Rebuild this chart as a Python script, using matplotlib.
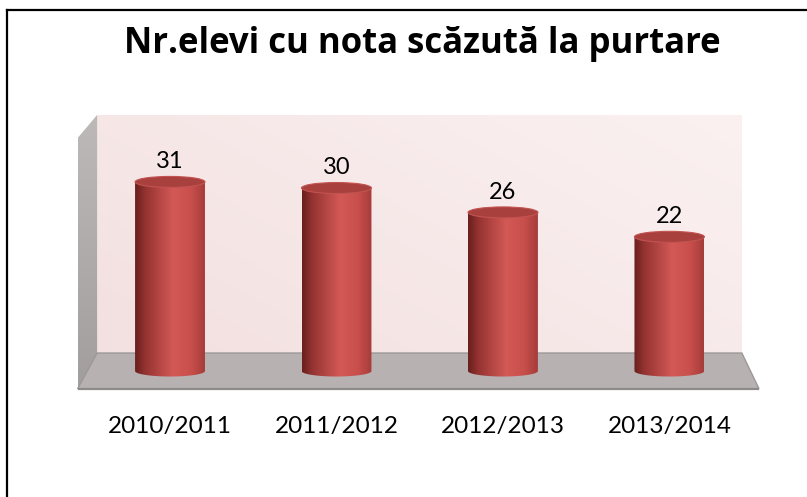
import numpy as np
from matplotlib import pyplot as plt
from matplotlib.patches import Polygon, Ellipse
from matplotlib.colors import LinearSegmentedColormap
from matplotlib.lines import Line2D

plt.rcParams['font.family'] = ['Lato', 'DejaVu Sans']

title = "Nr.elevi cu nota scăzută la purtare"
categories = ["2010/2011", "2011/2012", "2012/2013", "2013/2014"]
values = [31, 30, 26, 22]


def draw_walls(ax):
    # back wall, light pink gradient
    gx, gy = np.meshgrid(np.linspace(0, 1, 200), np.linspace(0, 1, 100))
    g = 0.6 * gx + 0.4 * gy
    wall_cmap = LinearSegmentedColormap.from_list("wall", ["#f3e0e0", "#fbf1f1"])
    ax.imshow(g, cmap=wall_cmap, extent=(-0.438, 3.435, 2.95, 41.97),
              origin="lower", aspect="auto", zorder=1)

    # left wall
    lw_poly = Polygon([(-0.438, 2.95), (-0.438, 41.97), (-0.555, 38.2), (-0.555, -2.9)],
                      closed=True, facecolor="none", edgecolor="none", zorder=2)
    ax.add_patch(lw_poly)
    gl = np.tile(np.linspace(0, 1, 100)[:, None], (1, 10))
    left_cmap = LinearSegmentedColormap.from_list("left", ["#a29e9e", "#bdb9b9"])
    im = ax.imshow(gl, cmap=left_cmap, extent=(-0.555, -0.438, -2.9, 41.97),
                   origin="lower", aspect="auto", zorder=2)
    im.set_clip_path(lw_poly)

    # floor
    floor = Polygon([(-0.438, 2.95), (3.435, 2.95), (3.538, -2.9), (-0.555, -2.9)],
                    closed=True, facecolor="#b7b1b1", edgecolor="#9c9898", lw=1, zorder=2)
    ax.add_patch(floor)
    ax.plot([-0.555, 3.538], [-2.9, -2.9], color="#8e8a8a", lw=1.6, zorder=3,
            solid_capstyle="butt")


def draw_cylinder(ax, c, v, w=0.42, h=0.9):
    t = np.linspace(np.pi, 2 * np.pi, 60)
    xs = list(c + w / 2 * np.cos(t)) + [c + w / 2, c - w / 2]
    ys = list(h * np.sin(t)) + [v, v]
    body = Polygon(list(zip(xs, ys)), closed=True, facecolor="none",
                   edgecolor="none", zorder=5)
    ax.add_patch(body)

    cyl_cmap = LinearSegmentedColormap.from_list(
        "cyl", [(0.0, "#6a201e"), (0.15, "#963432"), (0.55, "#d35956"),
                (0.8, "#c94f4c"), (1.0, "#a63d3b")])
    grad = np.linspace(0, 1, 100)[None, :]
    im = ax.imshow(grad, cmap=cyl_cmap, extent=(c - w / 2, c + w / 2, -h, v),
                   aspect="auto", zorder=5)
    im.set_clip_path(body)

    top = Ellipse((c, v), w, 2 * h, facecolor="#a8403e", edgecolor="#c25350",
                  lw=0.8, zorder=6)
    ax.add_patch(top)


fig = plt.figure(figsize=(8.07, 4.97), dpi=100)
ax = fig.add_axes([0.0766, 0.2044, 0.887, 0.5646])
ax.axis("off")

draw_walls(ax)

x = np.arange(len(categories))
for i in range(len(values)):
    draw_cylinder(ax, x[i], values[i])
    ax.annotate(str(values[i]), (x[i], values[i]), xytext=(0, 10),
                textcoords="offset points", ha="center", va="baseline",
                fontsize=17, color="black", zorder=7)
    ax.text(x[i], -10.16, categories[i], ha="center", va="baseline",
            fontsize=17.5, color="black", clip_on=False)

ax.set_xlim(-0.65, 3.65)
ax.set_ylim(-4, 42)

fig.text(422 / 807, (497 - 53) / 497, title, ha="center", va="baseline",
         fontsize=25, fontweight="bold", family=["Open Sans", "DejaVu Sans"])

# outer frame (top and left only visible)
fig.add_artist(Line2D([7 / 807, 1], [1 - 9.5 / 497, 1 - 9.5 / 497],
                      color="black", lw=1.6, transform=fig.transFigure))
fig.add_artist(Line2D([7 / 807, 7 / 807], [0, 1 - 9.5 / 497],
                      color="black", lw=1.6, transform=fig.transFigure))

plt.savefig("out.png", dpi=100)
